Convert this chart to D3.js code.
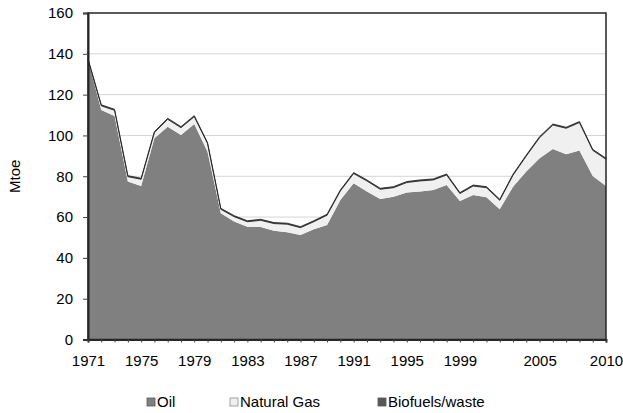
<!DOCTYPE html>
<html>
<head>
<meta charset="utf-8">
<script src="https://cdn.jsdelivr.net/npm/d3@7"></script>
<style>
  body { margin: 0; background: #fff; }
  svg { font-family: "Liberation Sans", Arial, sans-serif; }
</style>
</head>
<body>
<div id="chart"></div>
<script>
// values (Mtoe)
var years = [1971, 1972, 1973, 1974, 1975, 1976, 1977, 1978, 1979, 1980,
  1981, 1982, 1983, 1984, 1985, 1986, 1987, 1988, 1989, 1990,
  1991, 1992, 1993, 1994, 1995, 1996, 1997, 1998, 1999, 2000,
  2001, 2002, 2003, 2004, 2005, 2006, 2007, 2008, 2009, 2010];
var oil = [137, 112.5, 109.5, 77.4, 75.2, 98.6, 104.3, 100.2, 105.6, 92,
  61.9, 57.8, 55.3, 55.1, 53.3, 52.5, 51.2, 54, 56.1, 68.4,
  76.6, 72.5, 68.9, 70, 72, 72.5, 73.3, 75.7, 67.9, 70.8,
  69.7, 63.8, 74.9, 82.3, 88.8, 93.4, 90.8, 92.6, 80.1, 75.2];
var gas = [0.1, 2.0, 2.8, 2.4, 3.3, 2.8, 3.6, 3.6, 3.6, 4.0,
  1.9, 2.4, 2.4, 3.3, 3.5, 4.0, 3.6, 3.7, 4.8, 4.4,
  4.7, 5.2, 4.7, 4.4, 4.9, 5.2, 4.9, 4.9, 3.6, 4.4,
  4.7, 4.4, 5.6, 7.6, 10.1, 11.7, 12.7, 13.7, 12.6, 13.1];
var biofuels = [0.5, 0.5, 0.5, 0.5, 0.5, 0.5, 0.5, 0.5, 0.5, 0.5,
  0.5, 0.5, 0.5, 0.5, 0.5, 0.5, 0.5, 0.5, 0.5, 0.5,
  0.5, 0.5, 0.5, 0.5, 0.5, 0.5, 0.5, 0.5, 0.5, 0.5,
  0.5, 0.5, 0.5, 0.5, 0.5, 0.5, 0.5, 0.5, 0.5, 0.5];
var seriesNames = ["Oil", "Natural Gas", "Biofuels/waste"];
var yTicks = [0, 20, 40, 60, 80, 100, 120, 140, 160];
var xLabels = [1971, 1975, 1979, 1983, 1987, 1991, 1995, 1999, 2005, 2010];

var W = 623, H = 413;
var margin = { top: 13, right: 17, bottom: 73.5, left: 88 };
var width = W - margin.left - margin.right,
    height = H - margin.top - margin.bottom;

var fills = ["#808080", "#f0f0f0", "#595959"];

var rows = years.map(function(y, i) {
  return { year: y, "Oil": oil[i], "Natural Gas": gas[i], "Biofuels/waste": biofuels[i] };
});
var stacked = d3.stack().keys(seriesNames)(rows);

var x = d3.scaleLinear().domain([1971, 2010]).range([0, width]);
var y = d3.scaleLinear().domain([0, 160]).range([height, 0]);

var svg = d3.select("#chart").append("svg")
  .attr("width", W).attr("height", H);
var g = svg.append("g")
  .attr("transform", "translate(" + margin.left + "," + margin.top + ")");

// gridlines
g.append("g").selectAll("line").data(yTicks.slice(1, -1)).enter().append("line")
  .attr("x1", 0).attr("x2", width)
  .attr("y1", function(d) { return y(d); }).attr("y2", function(d) { return y(d); })
  .attr("stroke", "#d4d4d4").attr("stroke-width", 1);

var area = d3.area()
  .x(function(d) { return x(d.data.year); })
  .y0(function(d) { return y(d[0]); })
  .y1(function(d) { return y(d[1]); });

g.selectAll(".layer").data(stacked).enter().append("path")
  .attr("class", "layer")
  .attr("d", area)
  .attr("fill", function(d, i) { return fills[i]; })
  .attr("stroke", function(d, i) { return i === 2 ? "#1a1a1a" : "none"; })
  .attr("stroke-width", 0.8);

// frame
g.append("rect").attr("x", 0).attr("y", 0).attr("width", width).attr("height", height)
  .attr("fill", "none").attr("stroke", "#262626").attr("stroke-width", 1.5);

// y axis
var yAxis = g.append("g")
  .call(d3.axisLeft(y).tickValues(yTicks).tickSize(5).tickPadding(10));
yAxis.select(".domain").attr("stroke", "#262626").attr("stroke-width", 2);
yAxis.selectAll(".tick line").attr("stroke", "#404040");
yAxis.selectAll("text").attr("font-size", 15).attr("fill", "#000");

// x axis
var xAxis = g.append("g").attr("transform", "translate(0," + height + ")")
  .call(d3.axisBottom(x).tickValues(years).tickSize(3).tickPadding(13)
    .tickFormat(function(d) { return xLabels.indexOf(d) >= 0 ? d : ""; }));
xAxis.select(".domain").attr("stroke", "#262626").attr("stroke-width", 2);
xAxis.selectAll(".tick line").attr("stroke", "#404040");
xAxis.selectAll("text").attr("font-size", 15).attr("fill", "#000");

// y title
svg.append("text")
  .attr("transform", "translate(20," + (margin.top + height / 2) + ") rotate(-90)")
  .attr("text-anchor", "middle")
  .attr("font-size", 15)
  .text("Mtoe");

// legend
var legendX = [147, 230, 378];
var legend = svg.append("g").selectAll("g").data(seriesNames).enter().append("g")
  .attr("transform", function(d, i) { return "translate(" + legendX[i] + ",398)"; });
legend.append("rect").attr("width", 8).attr("height", 8)
  .attr("fill", function(d, i) { return fills[i]; })
  .attr("stroke", function(d, i) { return i === 1 ? "#8c8c8c" : "#595959"; })
  .attr("stroke-width", 0.8);
legend.append("text").attr("x", 10).attr("y", 9)
  .attr("font-size", 15)
  .text(function(d) { return d; });
</script>
</body>
</html>
